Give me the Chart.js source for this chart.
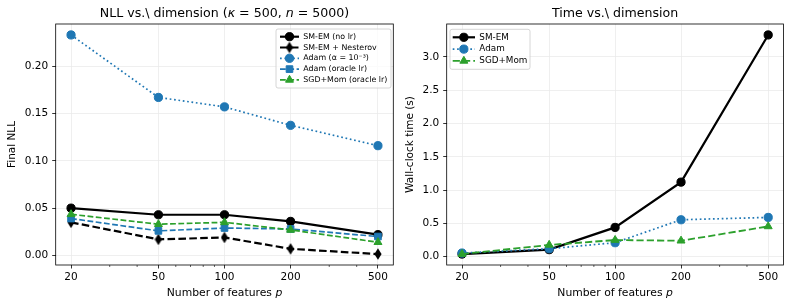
<!doctype html>
<html>

<head>
	<title>NLL and time vs. dimension</title>
	<script src="https://cdn.jsdelivr.net/npm/chart.js@4/dist/chart.umd.min.js"></script>
	<style>
	body {
		margin: 0;
		background: #fff;
	}
	#wrap {
		position: relative;
		width: 792px;
		height: 308px;
	}
	canvas {
		position: absolute;
		top: 0;
	}
	</style>
</head>

<body>
	<div id="wrap">
		<canvas id="nll" width="400" height="308" style="left:0;width:400px;height:308px"></canvas>
		<canvas id="time" width="392" height="308" style="left:400px;width:392px;height:308px"></canvas>
	</div>
	<script>
		// x categories (log axis)
		const features = [20, 50, 100, 200, 500];
		const minorTicks = [30, 40, 60, 70, 80, 90, 300, 400];

		// left panel: final NLL
		const nllSmem = [0.050, 0.043, 0.043, 0.036, 0.022];
		const nllNesterov = [0.035, 0.017, 0.019, 0.007, 0.0015];
		const nllAdamFixed = [0.233, 0.167, 0.157, 0.1375, 0.116];
		const nllAdamOracle = [0.039, 0.026, 0.029, 0.028, 0.020];
		const nllSgdOracle = [0.0435, 0.033, 0.035, 0.027, 0.014];
		const nllTicks = [0, 0.05, 0.10, 0.15, 0.20];

		// right panel: wall-clock time (s)
		const timeSmem = [0.04, 0.106, 0.44, 1.12, 3.33];
		const timeAdam = [0.055, 0.12, 0.21, 0.555, 0.59];
		const timeSgd = [0.04, 0.177, 0.25, 0.24, 0.455];
		const timeTicks = [0, 0.5, 1.0, 1.5, 2.0, 2.5, 3.0];

		const FONT = 'DejaVu Sans';
		const BLACK = '#000000';
		const BLUE = '#1f77b4';
		const GREEN = '#2ca02c';

		// matplotlib-style 5% margins
		function linRange(arrs) {
			const all = [].concat(...arrs);
			const lo = Math.min(...all), hi = Math.max(...all);
			const m = (hi - lo) * 0.05;
			return [lo - m, hi + m];
		}
		function logRange(vals) {
			const lo = Math.log10(Math.min(...vals)), hi = Math.log10(Math.max(...vals));
			const m = (hi - lo) * 0.05;
			return [Math.pow(10, lo - m), Math.pow(10, hi + m)];
		}

		const thinDiamond = (function() {
			const c = document.createElement('canvas');
			c.width = 8;
			c.height = 12;
			const g = c.getContext('2d');
			g.fillStyle = BLACK;
			g.beginPath();
			g.moveTo(4, 0.2);
			g.lineTo(7.6, 6);
			g.lineTo(4, 11.8);
			g.lineTo(0.4, 6);
			g.closePath();
			g.fill();
			return c;
		})();

		function series(label, vals, color, width, dash, marker, radius, idx) {
			return {
				label: label,
				data: features.map((p, i) => ({x: p, y: vals[i]})),
				borderColor: color,
				borderWidth: width,
				borderDash: dash,
				pointStyle: marker,
				pointRadius: radius,
				pointHoverRadius: radius,
				pointBackgroundColor: color,
				pointBorderColor: color,
				pointBorderWidth: 1,
				tension: 0,
				fill: false,
				order: -idx
			};
		}

		function drawRich(ctx, segs, cx, cy, size) {
			let total = 0;
			segs.forEach(s => {
				ctx.font = (s.italic ? 'italic ' : '') + size + 'px "' + FONT + '"';
				s.w = ctx.measureText(s.text).width;
				total += s.w;
			});
			let x = cx - total / 2;
			ctx.fillStyle = BLACK;
			ctx.textBaseline = 'middle';
			ctx.textAlign = 'left';
			segs.forEach(s => {
				ctx.font = (s.italic ? 'italic ' : '') + size + 'px "' + FONT + '"';
				ctx.fillText(s.text, x, cy);
				x += s.w;
			});
		}

		const mplDecor = {
			id: 'mplDecor',
			afterDatasetsDraw(chart, args, opts) {
				const ctx = chart.ctx;
				const a = chart.chartArea;
				ctx.save();
				// minor ticks on the log axis
				const xs = chart.scales.x;
				ctx.strokeStyle = BLACK;
				ctx.lineWidth = 0.6;
				ctx.beginPath();
				minorTicks.forEach(v => {
					const px = xs.getPixelForValue(v);
					ctx.moveTo(px, a.bottom);
					ctx.lineTo(px, a.bottom + 2);
				});
				ctx.stroke();
				// frame
				ctx.lineWidth = 0.8;
				ctx.strokeRect(a.left, a.top, a.right - a.left, a.bottom - a.top);
				// title and x label
				drawRich(ctx, opts.title, (a.left + a.right) / 2, opts.titleY, 12.6);
				drawRich(ctx, opts.xlabel, (a.left + a.right) / 2, opts.xlabelY, 10.8);
				// legend
				const lg = opts.legend;
				ctx.fillStyle = 'rgba(255,255,255,0.8)';
				ctx.strokeStyle = '#cccccc';
				ctx.lineWidth = 0.8;
				ctx.beginPath();
				ctx.roundRect(lg.x, lg.y, lg.w, lg.h, 2);
				ctx.fill();
				ctx.stroke();
				chart.data.datasets.forEach((ds, i) => {
					const y = lg.row0 + lg.row * i;
					ctx.strokeStyle = ds.borderColor;
					ctx.lineWidth = ds.borderWidth;
					ctx.setLineDash(ds.borderDash || []);
					ctx.beginPath();
					ctx.moveTo(lg.line0, y);
					ctx.lineTo(lg.line1, y);
					ctx.stroke();
					ctx.setLineDash([]);
					ctx.fillStyle = ds.pointBackgroundColor;
					ctx.strokeStyle = ds.pointBorderColor;
					ctx.lineWidth = ds.pointBorderWidth;
					Chart.helpers.drawPoint(ctx, {
						pointStyle: ds.pointStyle,
						rotation: 0,
						radius: ds.pointRadius,
						borderWidth: ds.pointBorderWidth
					}, (lg.line0 + lg.line1) / 2, y);
					ctx.fillStyle = BLACK;
					ctx.font = lg.size + 'px "' + FONT + '"';
					ctx.textBaseline = 'middle';
					ctx.textAlign = 'left';
					ctx.fillText(ds.label, lg.textX, y);
				});
				ctx.restore();
			}
		};

		function xScale() {
			const r = logRange(features);
			return {
				type: 'logarithmic',
				min: r[0],
				max: r[1],
				afterBuildTicks: s => { s.ticks = features.map(v => ({value: v})); },
				afterFit: s => { s.height = 43; },
				ticks: {
					callback: v => String(v),
					color: BLACK,
					font: {family: FONT, size: 10.5},
					padding: 2,
					maxRotation: 0,
					autoSkip: false
				},
				grid: {color: '#ebebeb', lineWidth: 0.8, tickColor: BLACK, tickLength: 3.5, tickWidth: 0.8},
				border: {display: false}
			};
		}

		function yScale(range, ticks, digits, width, label, titlePad) {
			return {
				type: 'linear',
				min: range[0],
				max: range[1],
				afterBuildTicks: s => { s.ticks = ticks.map(v => ({value: v})); },
				afterFit: s => { s.width = width; },
				ticks: {
					callback: v => v.toFixed(digits),
					color: BLACK,
					font: {family: FONT, size: 10.5},
					padding: 4
				},
				grid: {color: '#ebebeb', lineWidth: 0.8, tickColor: BLACK, tickLength: 3.5, tickWidth: 0.8},
				border: {display: false},
				title: {
					display: true,
					text: label,
					color: BLACK,
					font: {family: FONT, size: 10.5},
					padding: {top: titlePad, bottom: 0}
				}
			};
		}

		const xLabel = [{text: 'Number of features '}, {text: 'p', italic: true}];

		window.onload = function() {
			new Chart(document.getElementById('nll').getContext('2d'), {
				type: 'line',
				data: {
					datasets: [
						series('SM-EM (no lr)', nllSmem, BLACK, 2.2, [], 'circle', 4.1, 0),
						series('SM-EM + Nesterov', nllNesterov, BLACK, 2.2, [7.6, 3.3], thinDiamond, 4, 1),
						series('Adam (\u03B1 = 10\u207B\u00B3)', nllAdamFixed, BLUE, 1.7, [1.7, 2.7], 'circle', 4.1, 2),
						series('Adam (oracle lr)', nllAdamOracle, BLUE, 1.7, [5.8, 2.5], 'rect', 4.7, 3),
						series('SGD+Mom (oracle lr)', nllSgdOracle, GREEN, 1.7, [5.8, 2.5], 'triangle', 4.6, 4)
					]
				},
				options: {
					responsive: false,
					animation: false,
					devicePixelRatio: 1,
					events: [],
					layout: {padding: {top: 24, right: 6.7, bottom: 0, left: 0}},
					scales: {
						x: xScale(),
						y: yScale(linRange([nllSmem, nllNesterov, nllAdamFixed, nllAdamOracle, nllSgdOracle]), nllTicks, 2, 55.7, 'Final NLL', 6.3)
					},
					plugins: {
						legend: {display: false},
						tooltip: {enabled: false},
						mplDecor: {
							title: [
								{text: 'NLL vs.\\ dimension ('},
								{text: '\u03BA', italic: true},
								{text: ' = 500, '},
								{text: 'n', italic: true},
								{text: ' = 5000)'}
							],
							titleY: 14,
							xlabel: xLabel,
							xlabelY: 293,
							legend: {x: 276, y: 29, w: 115, h: 59, row0: 36.7, row: 10.8, line0: 280, line1: 299, textX: 303.3, size: 7.9}
						}
					}
				},
				plugins: [mplDecor]
			});

			new Chart(document.getElementById('time').getContext('2d'), {
				type: 'line',
				data: {
					datasets: [
						series('SM-EM', timeSmem, BLACK, 2.2, [], 'circle', 4.1, 0),
						series('Adam', timeAdam, BLUE, 1.7, [1.7, 2.7], 'circle', 4.1, 1),
						series('SGD+Mom', timeSgd, GREEN, 1.8, [7.2, 3.1], 'triangle', 4.6, 2)
					]
				},
				options: {
					responsive: false,
					animation: false,
					devicePixelRatio: 1,
					events: [],
					layout: {padding: {top: 24, right: 8.5, bottom: 0, left: 0}},
					scales: {
						x: xScale(),
						y: yScale(linRange([timeSmem, timeAdam, timeSgd]), timeTicks, 1, 46.7, 'Wall-clock time (s)', 4)
					},
					plugins: {
						legend: {display: false},
						tooltip: {enabled: false},
						mplDecor: {
							title: [{text: 'Time vs.\\ dimension'}],
							titleY: 14,
							xlabel: xLabel,
							xlabelY: 293,
							legend: {x: 50, y: 29.3, w: 80, h: 40, row0: 37.3, row: 11.8, line0: 52.7, line1: 75, textX: 79.3, size: 8.8}
						}
					}
				},
				plugins: [mplDecor]
			});
		};
	</script>
</body>

</html>
